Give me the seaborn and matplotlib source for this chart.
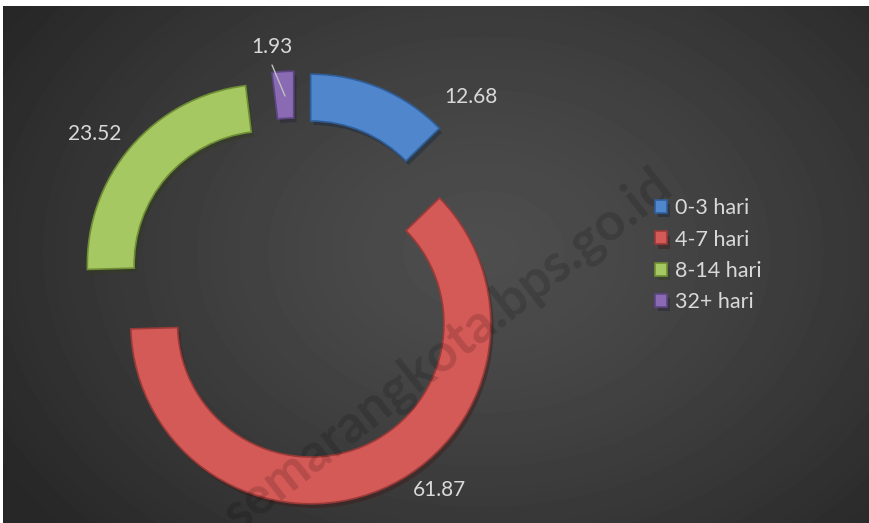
import numpy as np
import matplotlib
matplotlib.use("Agg")
import matplotlib.pyplot as plt
import matplotlib.patheffects as pe
import seaborn as sns

# ── DATA ─────────────────────────────────────────────
categories = ["0-3 hari", "4-7 hari", "8-14 hari", "32+ hari"]
values = [12.68, 61.87, 23.52, 1.93]
value_labels = ["12.68", "61.87", "23.52", "1.93"]

colors = ["#4f86cc", "#d45a57", "#a6c862", "#8a6bb3"]
edges = ["#2f5f9a", "#9c3a38", "#6f8f34", "#5e4684"]

sns.set_theme(style="dark")
plt.rcParams["font.family"] = ["Lato", "DejaVu Sans"]

W, H = 870, 523
fig = plt.figure(figsize=(W / 100, H / 100), dpi=100, facecolor="white")

# background radial gradient
bg = fig.add_axes([3 / W, 0, (W - 3) / W, (H - 6) / H])
bg.axis("off")
yy, xx = np.mgrid[0:517, 0:867]
r = np.sqrt(((xx - 480) / 560) ** 2 + ((yy - 245) / 420) ** 2)
shade = 0.305 - 0.15 * np.clip(r, 0, 1) ** 1.3
bg.imshow(shade, cmap="gray", vmin=0, vmax=1, aspect="auto",
          extent=[0, 867, 517, 0], interpolation="bilinear")

# main axes, 180 px per unit, donut centre at pixel (296, 289)
R = 180.0
cx, cy = 296, H - 289
ax = fig.add_axes([0, 0, 1, 1])
ax.patch.set_alpha(0)
wedges, _ = ax.pie(values, colors=colors, startangle=90, counterclock=False,
                   radius=1, explode=[0.21] * len(values),
                   wedgeprops=dict(width=0.26, linewidth=1.2))
for w, ec in zip(wedges, edges):
    w.set_edgecolor(ec)
    w.set_path_effects([pe.SimplePatchShadow(offset=(2, -3), alpha=0.45), pe.Normal()])
ax.set_xlim(-cx / R, (W - cx) / R)
ax.set_ylim(-cy / R, (H - cy) / R)
ax.set_aspect("auto")
ax.axis("off")

# value labels (angle in degrees, distance in radius units)
label_pos = [(47.7, 1.44), (-54.4, 1.37), (142.5, 1.41), (95.7, 1.35)]
for txt, (ang, dist) in zip(value_labels, label_pos):
    a = np.deg2rad(ang)
    ax.text(dist * np.cos(a), dist * np.sin(a), txt, ha="center", va="center",
            fontsize=15, color="#d9d9d9")

# leader line for the small slice
ax.plot([(272 - cx) / R, (285 - cx) / R], [(H - 65 - cy) / R, (H - 96 - cy) / R],
        color="#bfbfbf", lw=1)

fig.legend(wedges, categories, loc="upper left",
           bbox_to_anchor=(636 / W, 1 - 179 / H), frameon=False,
           labelcolor="#d9d9d9", fontsize=15.5, handlelength=0.55,
           handleheight=0.55, labelspacing=0.52, handletextpad=0.35)

# watermark
fig.text(448 / W, 1 - 350 / H, "semarangkota.bps.go.id", rotation=38,
         ha="center", va="center", rotation_mode="anchor", fontsize=38,
         fontweight="bold", color="black", alpha=0.15)

fig.savefig("out.png", dpi=100, facecolor="white")
